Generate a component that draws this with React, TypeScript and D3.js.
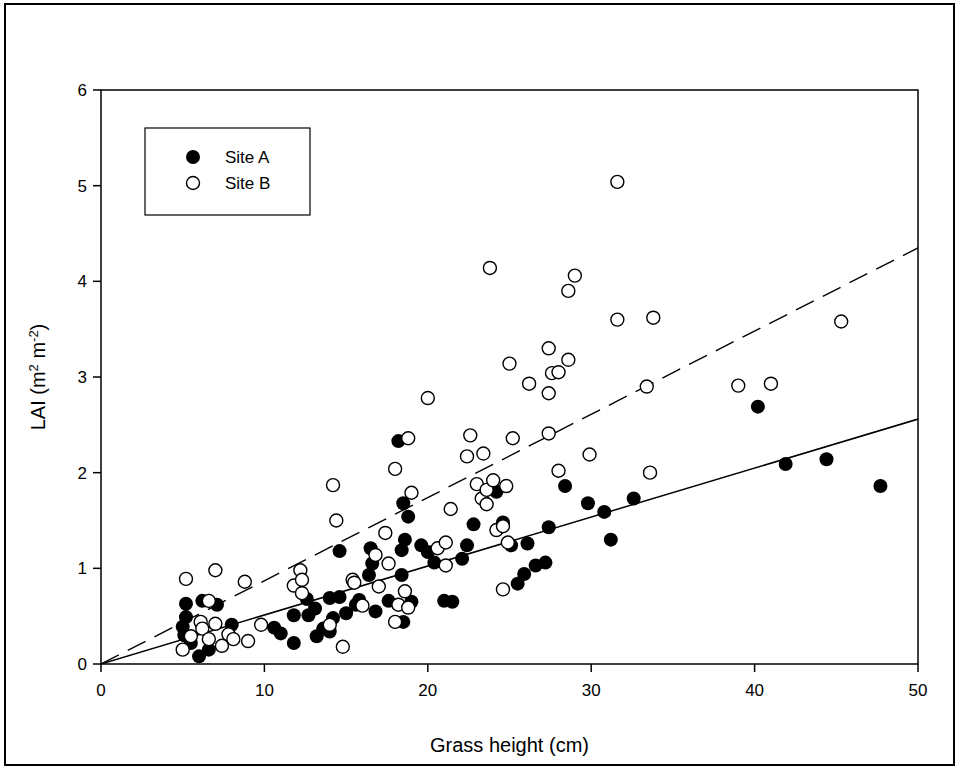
import React from 'react';
import * as d3 from 'd3';

// Site A (filled) : [grass height cm, LAI]
const siteA: [number, number][] = [
  [5.0, 0.39], [5.2, 0.49], [5.2, 0.63], [5.1, 0.30], [5.5, 0.22], [6.0, 0.08],
  [6.2, 0.66], [6.6, 0.15], [7.1, 0.62], [8.0, 0.41], [10.6, 0.38], [11.0, 0.32],
  [11.8, 0.51], [11.8, 0.22], [12.6, 0.68], [12.7, 0.51], [13.1, 0.58], [13.2, 0.29],
  [13.6, 0.37], [14.0, 0.34], [14.0, 0.69], [14.2, 0.48], [14.6, 0.70], [15.0, 0.53],
  [15.6, 0.62], [15.8, 0.67], [16.4, 0.93], [16.6, 1.05], [16.5, 1.21], [16.8, 0.55],
  [17.6, 0.66], [18.2, 2.33], [18.4, 0.93], [18.4, 1.19], [18.5, 0.44], [18.5, 1.68],
  [18.6, 1.30], [18.8, 1.54], [19.0, 0.65], [19.6, 1.24], [20.0, 1.17], [20.4, 1.06],
  [21.0, 0.66], [21.5, 0.65], [22.1, 1.10], [22.4, 1.24], [22.8, 1.46], [24.2, 1.80],
  [24.6, 1.48], [25.1, 1.24], [25.5, 0.84], [25.9, 0.94], [26.1, 1.26], [26.6, 1.03],
  [27.2, 1.06], [27.4, 1.43], [28.4, 1.86], [29.8, 1.68], [30.8, 1.59], [31.2, 1.30],
  [32.6, 1.73], [40.2, 2.69], [41.9, 2.09], [44.4, 2.14], [47.7, 1.86], [14.6, 1.18],
];

// Site B (open)
const siteB: [number, number][] = [
  [5.2, 0.89], [7.0, 0.98], [8.8, 0.86], [6.6, 0.66], [6.1, 0.44], [6.2, 0.37],
  [7.0, 0.42], [9.8, 0.41], [5.5, 0.29], [6.6, 0.26], [7.8, 0.31], [8.1, 0.26],
  [9.0, 0.24], [7.4, 0.19], [5.0, 0.15], [11.8, 0.82], [12.2, 0.98], [12.3, 0.88],
  [12.3, 0.74], [14.0, 0.41], [14.8, 0.18], [14.2, 1.87], [14.4, 1.50], [15.4, 0.88],
  [15.5, 0.85], [16.0, 0.61], [17.0, 0.81], [16.8, 1.14], [17.4, 1.37], [17.6, 1.05],
  [18.0, 2.04], [18.8, 2.36], [19.0, 1.79], [18.0, 0.44], [18.2, 0.62], [18.6, 0.76],
  [18.8, 0.59], [20.0, 2.78], [20.6, 1.21], [21.1, 1.27], [21.1, 1.03], [21.4, 1.62],
  [22.4, 2.17], [22.6, 2.39], [23.0, 1.88], [23.3, 1.73], [23.4, 2.20], [23.6, 1.67],
  [23.6, 1.82], [23.8, 4.14], [24.0, 1.92], [24.2, 1.40], [24.6, 1.44], [24.6, 0.78],
  [24.8, 1.86], [24.9, 1.27], [25.0, 3.14], [25.2, 2.36], [26.2, 2.93], [27.4, 2.83],
  [27.4, 2.41], [27.4, 3.30], [27.6, 3.04], [28.0, 3.05], [28.0, 2.02], [28.6, 3.90],
  [28.6, 3.18], [29.0, 4.06], [29.9, 2.19], [31.6, 5.04], [31.6, 3.60], [33.4, 2.90],
  [33.6, 2.00], [33.8, 3.62], [39.0, 2.91], [41.0, 2.93], [45.3, 3.58],
];

// fitted lines through origin: [x, y] end points
const fitA: [number, number][] = [[0, 0], [50, 2.56]];
const fitB: [number, number][] = [[0, 0], [50, 4.35]];

const xTicks = [0, 10, 20, 30, 40, 50];
const yTicks = [0, 1, 2, 3, 4, 5, 6];

const W = 960;
const H = 768;
const left = 101, right = 918, top = 90, bottom = 664;
const font = 'Arial, "Liberation Sans", sans-serif';

export default function App() {
  const x = d3.scaleLinear().domain([0, 50]).range([left, right]);
  const y = d3.scaleLinear().domain([0, 6]).range([bottom, top]);
  const line = d3.line<[number, number]>().x(d => x(d[0])).y(d => y(d[1]));
  const r = 7;

  return (
    <svg width={W} height={H} style={{ position: 'absolute', left: 0, top: 0, background: '#fff' }}>
      <rect x={5} y={4} width={949} height={761} fill="#fff" stroke="#000" strokeWidth={2} />
      <defs>
        <clipPath id="plot">
          <rect x={left} y={top} width={right - left} height={bottom - top} />
        </clipPath>
      </defs>

      {/* fit lines */}
      <g clipPath="url(#plot)">
        <path d={line(fitB) || ''} fill="none" stroke="#000" strokeWidth={1.4} strokeDasharray="20,10" />
        <path d={line(fitA) || ''} fill="none" stroke="#000" strokeWidth={1.5} />
      </g>

      {/* points */}
      {siteA.map((d, i) => (
        <circle key={'a' + i} cx={x(d[0])} cy={y(d[1])} r={r} fill="#000" />
      ))}
      {siteB.map((d, i) => (
        <circle key={'b' + i} cx={x(d[0])} cy={y(d[1])} r={r - 0.5} fill="#fff" stroke="#000" strokeWidth={1.4} />
      ))}

      {/* plot frame */}
      <rect x={left} y={top} width={right - left} height={bottom - top} fill="none" stroke="#000" strokeWidth={1.5} />

      {/* y axis */}
      {yTicks.map(t => (
        <g key={'y' + t}>
          <line x1={left - 8} x2={left} y1={y(t)} y2={y(t)} stroke="#000" strokeWidth={1.5} />
          <text x={left - 14} y={y(t)} dy="0.35em" textAnchor="end" fontFamily={font} fontSize={17}>{t}</text>
        </g>
      ))}
      {/* x axis */}
      {xTicks.map(t => (
        <g key={'x' + t}>
          <line x1={x(t)} x2={x(t)} y1={bottom} y2={bottom + 8} stroke="#000" strokeWidth={1.5} />
          <text x={x(t)} y={bottom + 32} textAnchor="middle" fontFamily={font} fontSize={17}>{t}</text>
        </g>
      ))}

      <text x={(left + right) / 2} y={752} textAnchor="middle" fontFamily={font} fontSize={20}>Grass height (cm)</text>
      <text transform={`translate(45,${(top + bottom) / 2}) rotate(-90)`} textAnchor="middle" fontFamily={font} fontSize={20}>
        LAI (m<tspan baseline-shift="super" fontSize={13}>2</tspan> m<tspan baseline-shift="super" fontSize={13}>-2</tspan>)
      </text>

      {/* legend */}
      <rect x={145} y={128} width={165} height={87} fill="#fff" stroke="#000" strokeWidth={1.2} />
      <circle cx={193} cy={157} r={r} fill="#000" />
      <text x={225} y={157} dy="0.35em" fontFamily={font} fontSize={17}>Site A</text>
      <circle cx={193} cy={183} r={r - 0.5} fill="#fff" stroke="#000" strokeWidth={1.4} />
      <text x={225} y={183} dy="0.35em" fontFamily={font} fontSize={17}>Site B</text>
    </svg>
  );
}
